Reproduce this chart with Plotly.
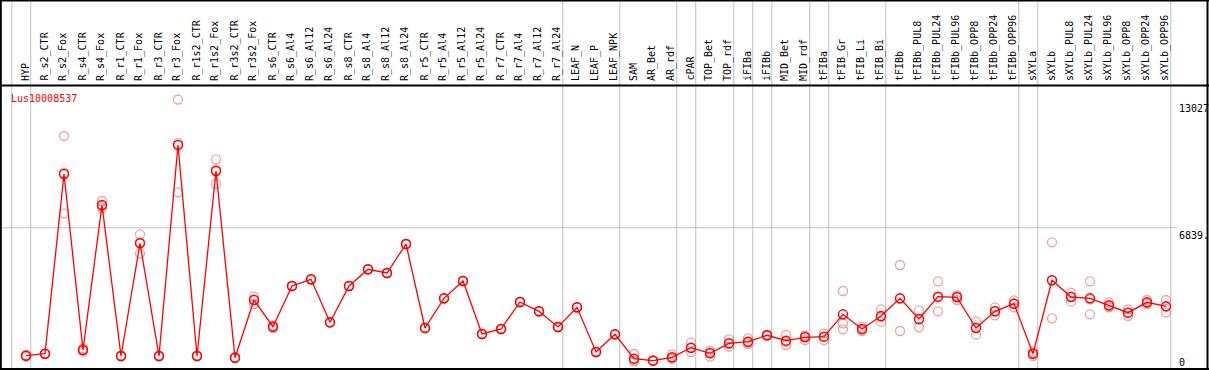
import plotly.graph_objects as go

gene = "Lus10008537"
categories = ["HYP", "R_s2_CTR", "R_s2_Fox", "R_s4_CTR", "R_s4_Fox", "R_r1_CTR", "R_r1_Fox",
              "R_r3_CTR", "R_r3_Fox", "R_r1s2_CTR", "R_r1s2_Fox", "R_r3s2_CTR", "R_r3s2_Fox",
              "R_s6_CTR", "R_s6_Al4", "R_s6_Al12", "R_s6_Al24", "R_s8_CTR", "R_s8_Al4",
              "R_s8_Al12", "R_s8_Al24", "R_r5_CTR", "R_r5_Al4", "R_r5_Al12", "R_r5_Al24",
              "R_r7_CTR", "R_r7_Al4", "R_r7_Al12", "R_r7_Al24", "LEAF_N", "LEAF_P", "LEAF_NPK",
              "SAM", "AR_Bet", "AR_rdf", "cPAR", "TOP_Bet", "TOP_rdf", "iFIBa", "iFIBb",
              "MID_Bet", "MID_rdf", "tFIBa", "tFIB_Gr", "tFIB_Li", "tFIB_Bi", "tFIBb",
              "tFIBb_PUL8", "tFIBb_PUL24", "tFIBb_PUL96", "tFIBb_OPP8", "tFIBb_OPP24",
              "tFIBb_OPP96", "sXYLa", "sXYLb", "sXYLb_PUL8", "sXYLb_PUL24", "sXYLb_PUL96",
              "sXYLb_OPP8", "sXYLb_OPP24", "sXYLb_OPP96"]

mean_values = [666, 762, 9433, 941, 7937, 651, 6089, 651, 10832, 651, 9578, 569, 3353,
               2065, 4029, 4352, 2277, 4029, 4835, 4656, 6055, 2002, 3435, 4270, 1713,
               1954, 3257, 2808, 2051, 3001, 844, 1698,
               521, 425, 589, 1052, 782, 1264, 1341, 1650,
               1390, 1554, 1583, 2663, 1954, 2581, 3435,
               2437, 3513, 3484, 2002, 2808,
               3175, 762, 4304, 3498, 3435, 3098,
               2741, 3242, 3049]

rep1 = [620, 740, 11266, 859, 8130, 630, 6523, 630, 13027, 630, 10142, 550, 3513,
        2000, 4029, 4352, 2277, 4029, 4835, 4656, 6055, 2002, 3435, 4270, 1713,
        1954, 3257, 2808, 2051, 3001, 844, 1698,
        748, 400, 714, 1293, 907, 1457, 1505, 1620,
        1665, 1616, 1747, 3788, 2065, 2905, 5042,
        2856, 4256, 3561, 2306, 3001,
        3339, 859, 6137, 3706, 4256, 3242,
        2905, 3353, 3353]
rep2 = [690, 770, 7537, 941, 7792, 651, 5607, 651, 8550, 651, 8950, 569, 3160,
        2065, 4029, 4352, 2277, 4029, 4835, 4656, 6055, 2002, 3435, 4270, 1713,
        1954, 3257, 2808, 2051, 3001, 844, 1698,
        425, 425, 521, 830, 618, 1100, 1293, 1650,
        1182, 1423, 1423, 2229, 1858, 2306, 1858,
        2036, 2808, 3353, 1679, 2615,
        3001, 651, 2470, 3271, 2663, 3001,
        2581, 3160, 2760]
rep3 = [690, 780, 9496, 1020, 7889, 670, 6137, 670, 10919, 670, 9642, 590, 3386,
        2130, 4029, 4352, 2277, 4029, 4835, 4656, 6055, 2002, 3435, 4270, 1713,
        1954, 3257, 2808, 2051, 3001, 844, 1698,
        390, 450, 532, 1033, 821, 1235, 1225, 1680,
        1323, 1623, 1579, 1940, 1939, 2532, 3405,
        2419, 3475, 3538, 2021, 2808,
        3185, 776, 4305, 3517, 3386, 3051,
        2737, 3213, 3034]

# index of last sample in each group (separator drawn after it); -1 = before first
group_ends = [-1, 0, 28, 31, 34, 35, 37, 38, 39, 41, 42, 45, 52, 53, 60]

axis_mid = 6839
axis_max_label = 13027

W, H = 1209, 370
def px_x(p):
    return p / W
def px_y(p):
    return 1 - p / H

idx = list(range(len(categories)))

fig = go.Figure()

rep_x, rep_y = [], []
for r in (rep1, rep2, rep3):
    for i, v in enumerate(r):
        rep_x.append(i)
        rep_y.append(v)

fig.add_trace(go.Scatter(
    x=rep_x, y=rep_y, mode="markers",
    marker=dict(symbol="circle-open", size=9, color="rgba(232,110,110,0.65)",
                line=dict(width=1.3, color="rgba(232,110,110,0.65)")),
    hoverinfo="skip"))

fig.add_trace(go.Scatter(
    x=idx, y=mean_values, mode="lines+markers",
    line=dict(color="#ff0000", width=1.3),
    marker=dict(symbol="circle-open", size=9, color="#ff0000",
                line=dict(width=1.4, color="#ff0000"))))

shapes = []
# vertical group separators
for g in group_ends:
    shapes.append(dict(type="line", xref="x", yref="paper", x0=g + 0.25, x1=g + 0.25,
                       y0=0, y1=1, line=dict(color="#c0c0c0", width=1), layer="below"))
# mid gridline
shapes.append(dict(type="line", xref="paper", yref="y", x0=0, x1=px_x(1177),
                   y0=axis_mid, y1=axis_mid, line=dict(color="#c0c0c0", width=1), layer="below"))
# black borders
black = dict(color="#000000", width=2)
shapes += [
    dict(type="line", xref="paper", yref="paper", x0=0, x1=1, y0=px_y(0.5), y1=px_y(0.5), line=black),
    dict(type="line", xref="paper", yref="paper", x0=0, x1=1, y0=px_y(85.5), y1=px_y(85.5), line=black),
    dict(type="line", xref="paper", yref="paper", x0=0, x1=1, y0=px_y(369), y1=px_y(369), line=black),
    dict(type="line", xref="paper", yref="paper", x0=px_x(0.8), x1=px_x(0.8), y0=0, y1=1, line=black),
    dict(type="line", xref="paper", yref="paper", x0=px_x(1207.5), x1=px_x(1207.5), y0=0, y1=1, line=black),
]

annotations = []
mono = "DejaVu Sans Mono"
for i, c in enumerate(categories):
    annotations.append(dict(x=i, y=px_y(83), xref="x", yref="paper", text=c, textangle=-90,
                            showarrow=False, xanchor="center", yanchor="bottom", xshift=-1,
                            font=dict(family=mono, size=10, color="#000000")))
annotations.append(dict(x=px_x(9), y=px_y(91), xref="paper", yref="paper", text=gene,
                        showarrow=False, xanchor="left", yanchor="top",
                        font=dict(family=mono, size=10, color="#ff0000")))
annotations.append(dict(x=px_x(1177), y=axis_max_label, xref="paper", yref="y",
                        text=str(axis_max_label), showarrow=False, xanchor="left", yanchor="top",
                        yshift=-1, font=dict(family=mono, size=10, color="#000000")))
annotations.append(dict(x=px_x(1177), y=axis_mid, xref="paper", yref="y",
                        text=f"{axis_mid}.", showarrow=False, xanchor="left", yanchor="top",
                        font=dict(family=mono, size=10, color="#000000")))
annotations.append(dict(x=px_x(1177), y=0, xref="paper", yref="y",
                        text="0", showarrow=False, xanchor="left", yanchor="bottom",
                        font=dict(family=mono, size=10, color="#000000")))

fig.update_layout(
    width=W, height=H, margin=dict(l=0, r=0, t=0, b=0),
    paper_bgcolor="white", plot_bgcolor="white", showlegend=False,
    xaxis=dict(visible=False, range=[-26 / 19, (W - 26) / 19], fixedrange=True),
    yaxis=dict(visible=False, range=[-24, 17828], fixedrange=True),
    shapes=shapes, annotations=annotations,
)

fig.write_html("out.html", config={"displayModeBar": False},
               post_script="document.body.style.margin='0';document.body.style.overflow='hidden';")
